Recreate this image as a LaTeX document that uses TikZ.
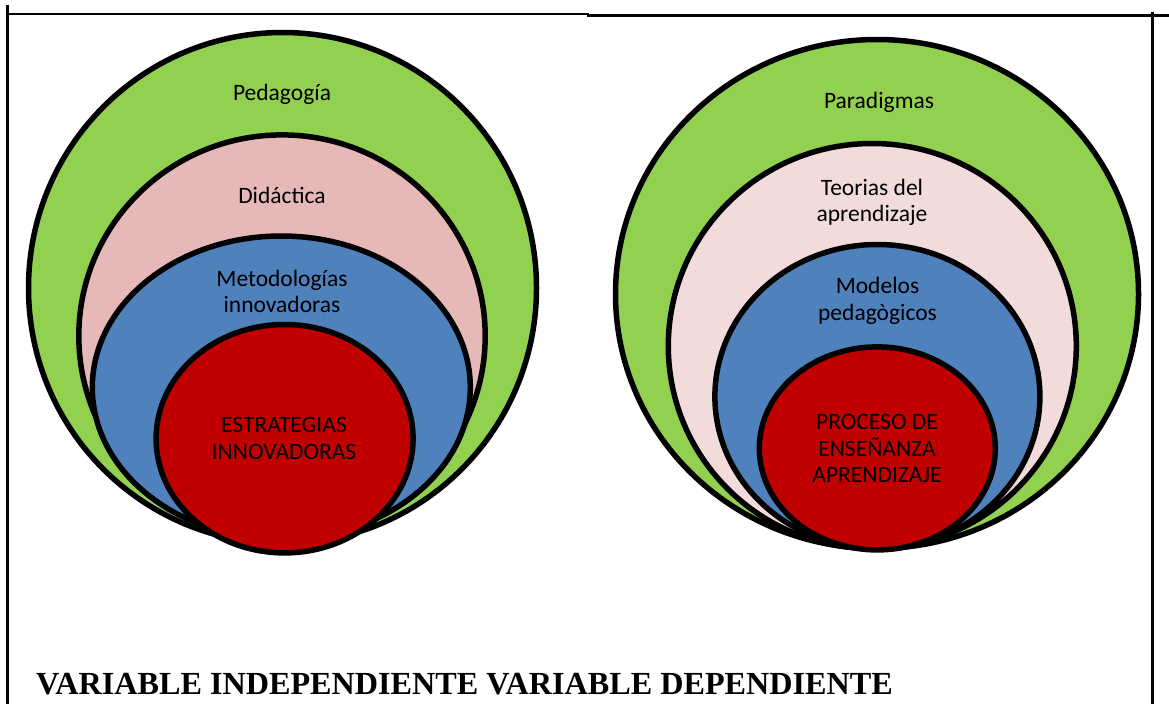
\documentclass[tikz,border=0pt]{standalone}
\usepackage{fontspec}
\setmainfont{Liberation Serif}
\newfontfamily\calib{Carlito}
\definecolor{cgreen}{HTML}{92D050}
\definecolor{cpinkA}{HTML}{E6B8B7}
\definecolor{cpinkB}{HTML}{F2DCDB}
\definecolor{cblue}{HTML}{4F81BD}
\definecolor{cred}{HTML}{C00000}
\tikzset{
  ring/.style={draw=black, line width=5.5pt},
  lbl/.style={font=\calib\fontsize{23.5}{26.5}\selectfont, align=center, inner sep=0pt, text=black},
  frame/.style={draw=black, line width=2.2pt},
}
\begin{document}
\begin{tikzpicture}[x=1pt,y=-1pt]
\useasboundingbox (0,0) rectangle (1169,704);
% frame
\draw[frame] (7.5,5) -- (7.5,704);
\draw[frame] (7.5,14) -- (588,14) -- (588,15.5) -- (1169,15.5);
\draw[frame] (1152.5,11.5) -- (1152.5,704);
% left group
\fill[cgreen, ring] (282.5,288) ellipse [x radius=254, y radius=255.5];
\fill[cpinkA, ring] (282,336) ellipse [x radius=203.2, y radius=201.1];
\fill[cblue, ring] (281.3,387.5) ellipse [x radius=189, y radius=151.5];
\fill[cred, ring] (284.6,438.7) ellipse [x radius=128.5, y radius=114.2];
\node[lbl] (pedag) at (282,94) {Pedagogía};
\node[lbl] (didac) at (282,195) {Didáctica};
\node[lbl] (metod) at (282,291.5) {Metodologías\\innovadoras};
\node[lbl] (estra) at (284,438.5) {ESTRATEGIAS\\INNOVADORAS};
% right group
\fill[cgreen, ring] (877,294) ellipse [x radius=261.5, y radius=254.5];
\fill[cpinkB, ring] (872.3,346) ellipse [x radius=204, y radius=202.5];
\fill[cblue, ring] (877.4,396.5) ellipse [x radius=162.5, y radius=152];
\fill[cred, ring] (877.3,448.4) ellipse [x radius=118, y radius=101.5];
\node[lbl] (parad) at (879,102) {Paradigmas};
\node[lbl] (teori) at (872,202.5) {Teorias del\\aprendizaje};
\node[lbl] (model) at (877.5,301) {Modelos\\pedagògicos};
\node[lbl] (proce) at (877,448.5) {PROCESO DE\\ENSEÑANZA\\APRENDIZAJE};
% caption
\node[anchor=base west, inner sep=0pt, font=\bfseries\fontsize{32.2}{36}\selectfont] (cap) at (36,694) {VARIABLE INDEPENDIENTE VARIABLE DEPENDIENTE};
\end{tikzpicture}
\end{document}
